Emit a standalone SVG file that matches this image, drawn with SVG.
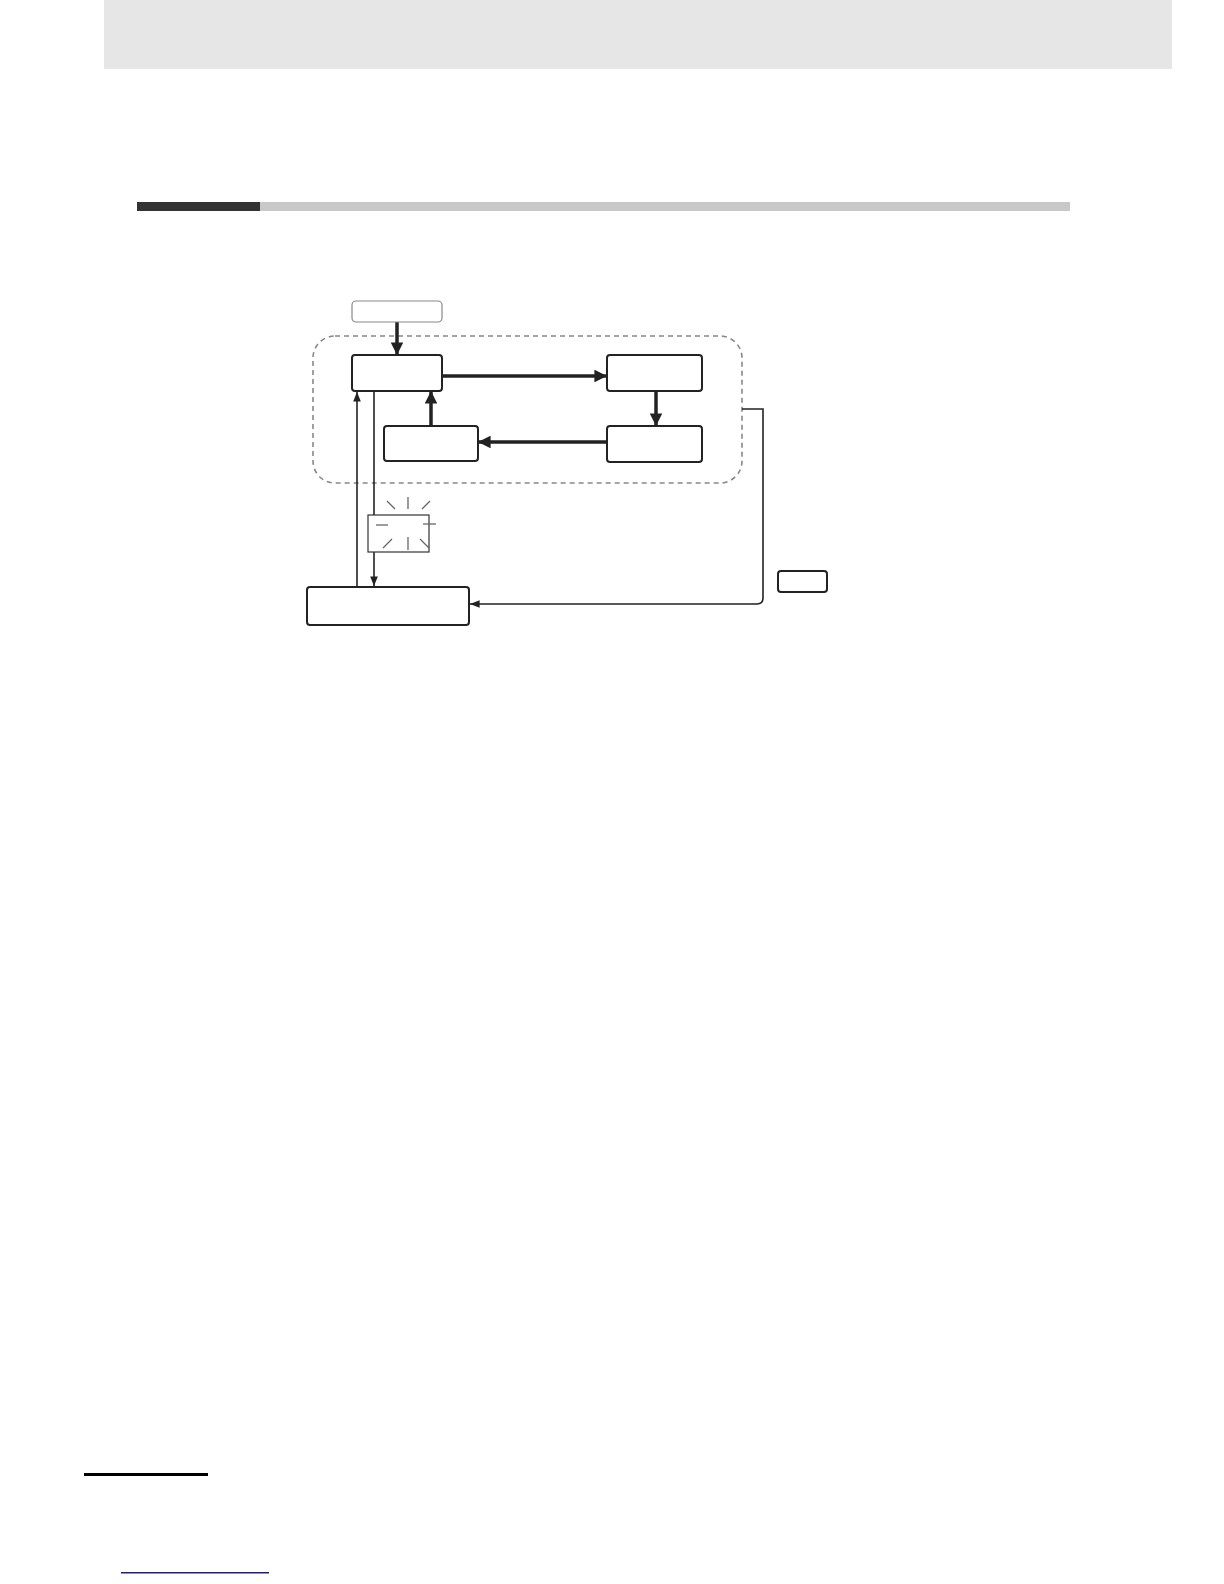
<svg xmlns="http://www.w3.org/2000/svg" width="1224" height="1584" viewBox="0 0 1224 1584">
<style>
.node{fill:#fff;stroke:#222;stroke-width:2}
.thick{stroke:#222;stroke-width:3.5;fill:none}
.thin{stroke:#222;stroke-width:1.6;fill:none}
.ray{stroke:#666;stroke-width:1.3}
</style>
<defs>
<marker id="big" viewBox="0 0 10 10" refX="10" refY="5" markerWidth="3.6" markerHeight="3.6" markerUnits="strokeWidth" orient="auto"><path d="M0,0L10,5L0,10z" fill="#222"/></marker>
<marker id="small" viewBox="0 0 10 10" refX="10" refY="5" markerWidth="6" markerHeight="6" markerUnits="strokeWidth" orient="auto"><path d="M0,1L10,5L0,9z" fill="#222"/></marker>
</defs>
<rect x="0" y="0" width="1224" height="1584" fill="#fff"/>
<rect x="104" y="0" width="1068" height="69" fill="#e6e6e6"/>
<rect x="137" y="202" width="123" height="9" fill="#333"/>
<rect x="260" y="202" width="810" height="9" fill="#c8c8c8"/>
<g id="group-dashed"><rect x="313" y="336" width="429" height="147" rx="22" fill="none" stroke="#888" stroke-width="1.6" stroke-dasharray="5,4"/></g>
<g id="connectors">
<line class="thick" x1="397" y1="322" x2="397" y2="355" marker-end="url(#big)"/>
<line class="thick" x1="442" y1="376" x2="607" y2="376" marker-end="url(#big)"/>
<line class="thick" x1="656" y1="391" x2="656" y2="426" marker-end="url(#big)"/>
<line class="thick" x1="608" y1="442" x2="478" y2="442" marker-end="url(#big)"/>
<line class="thick" x1="431" y1="426" x2="431" y2="391" marker-end="url(#big)"/>
<line class="thin" x1="357" y1="587" x2="357" y2="392" marker-end="url(#small)"/>
<line class="thin" x1="374" y1="392" x2="374" y2="586" marker-end="url(#small)"/>
<path class="thin" d="M742,409 H763 V598 Q763,604 757,604 H470" marker-end="url(#small)"/>
</g>
<g id="node-top"><rect x="352" y="301" width="90" height="21" rx="4" fill="#fff" stroke="#888" stroke-width="1.2"/></g>
<g id="node-a"><rect class="node" x="352" y="355" width="90" height="36" rx="3"/></g>
<g id="node-b"><rect class="node" x="607" y="355" width="95" height="36" rx="3"/></g>
<g id="node-c"><rect class="node" x="384" y="426" width="94" height="35" rx="3"/></g>
<g id="node-d"><rect class="node" x="607" y="426" width="95" height="36" rx="3"/></g>
<g id="node-blink">
<rect x="368" y="515" width="61" height="37" fill="#fff" stroke="#333" stroke-width="1.2"/>
<line class="ray" x1="387" y1="501" x2="395" y2="509"/>
<line class="ray" x1="408" y1="497" x2="408" y2="509"/>
<line class="ray" x1="422" y1="509" x2="430" y2="501"/>
<line class="ray" x1="376" y1="525" x2="388" y2="525"/>
<line class="ray" x1="423" y1="524" x2="436" y2="524"/>
<line class="ray" x1="383" y1="548" x2="392" y2="539"/>
<line class="ray" x1="408" y1="537" x2="408" y2="550"/>
<line class="ray" x1="420" y1="539" x2="429" y2="548"/>
</g>
<g id="node-bottom"><rect class="node" x="307" y="587" width="162" height="38" rx="3"/></g>
<g id="node-key"><rect class="node" x="778" y="571" width="49" height="21" rx="3"/></g>
<rect x="84" y="1473" width="124" height="3" fill="#000"/>
<rect x="121" y="1572" width="148" height="1.5" fill="#1a237e"/>
</svg>
